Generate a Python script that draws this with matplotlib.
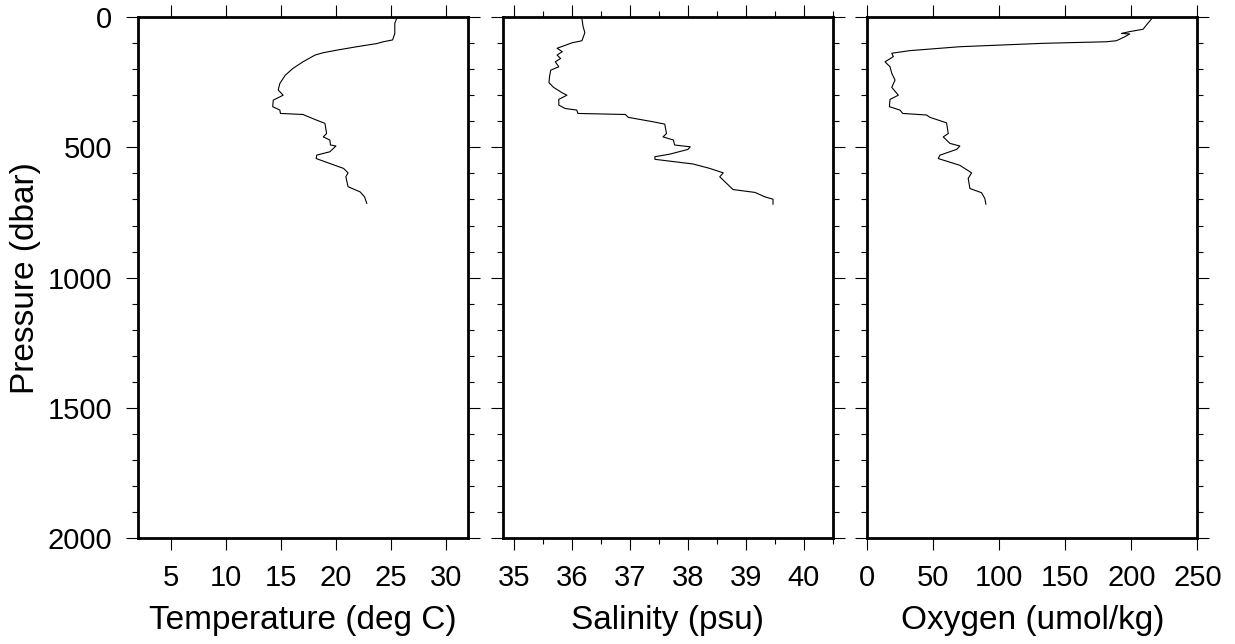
import matplotlib
matplotlib.use("Agg")
import matplotlib.pyplot as plt
from matplotlib.ticker import MultipleLocator

plt.rcParams["font.family"] = ["Liberation Sans", "DejaVu Sans"]

# profiles (pressure in dbar)
temp_p = [8, 24, 63, 88, 95, 102, 114, 127, 137, 146, 172, 197, 223, 255, 280,
          300, 319, 344, 357, 370, 374, 395, 408, 447, 460, 472, 491, 495, 517,
          530, 543, 562, 581, 598, 613, 651, 671, 690, 715]
temp = [25.5, 25.35, 25.35, 25.15, 24.3, 23.7, 21.9, 20.1, 18.85, 18.1, 17.0,
        16.1, 15.4, 14.9, 14.75, 15.2, 14.3, 14.25, 14.9, 14.95, 17.0, 18.2,
        19.0, 19.15, 18.85, 19.45, 19.5, 20.0, 19.45, 18.25, 18.2, 19.45, 20.7,
        21.1, 20.9, 21.1, 22.2, 22.6, 22.8]

sal_p = [8, 37, 60, 91, 99, 120, 133, 146, 159, 172, 191, 204, 229, 252, 270,
         291, 300, 316, 338, 351, 357, 370, 374, 385, 402, 411, 447, 460, 472,
         491, 498, 508, 526, 536, 546, 564, 581, 598, 613, 645, 662, 673, 690,
         699, 718]
sal = [36.17, 36.19, 36.22, 36.17, 36.0, 35.74, 35.83, 35.74, 35.8, 35.71,
       35.77, 35.63, 35.61, 35.6, 35.68, 35.83, 35.91, 35.77, 35.77, 35.88,
       36.08, 36.1, 36.92, 36.97, 37.4, 37.6, 37.63, 37.57, 37.75, 37.77, 38.04,
       38.0, 37.69, 37.43, 37.43, 38.09, 38.38, 38.61, 38.55, 38.7, 38.78, 39.16,
       39.33, 39.47, 39.47]

oxy_p = [8, 31, 47, 56, 63, 65, 76, 91, 95, 101, 114, 129, 139, 152, 172, 191,
         216, 242, 270, 300, 316, 344, 357, 370, 376, 385, 406, 447, 460, 485,
         495, 508, 530, 543, 569, 598, 619, 658, 674, 696, 718]
oxy = [215.2, 211.4, 208.9, 198.8, 192.5, 198.8, 195.0, 188.7, 181.0, 133.0,
       70.1, 32.3, 18.5, 19.7, 13.4, 17.2, 18.5, 21.0, 18.5, 23.5, 17.2, 16.7,
       24.7, 26.8, 44.9, 47.4, 60.0, 61.3, 57.5, 62.6, 70.1, 67.6, 55.0, 53.7,
       70.1, 79.0, 76.4, 77.7, 86.5, 89.0, 89.8]

labels = ["Temperature (deg C)", "Salinity (psu)", "Oxygen (umol/kg)"]
xlims = [(2, 32), (34.8, 40.5), (0, 250)]
xmajor = [5, 1, 50]
xminor = [None, 0.5, None]

fig = plt.figure(figsize=(12.35, 6.44), dpi=100)
lefts = [0.1117, 0.4070, 0.7023]
series = [(temp, temp_p), (sal, sal_p), (oxy, oxy_p)]

for i, (x, p) in enumerate(series):
    ax = fig.add_axes([lefts[i], 0.1641, 0.2672, 0.8095])
    ax.plot(x, p, color="black", lw=0.8)
    ax.set_xlim(*xlims[i])
    ax.set_ylim(2000, 0)
    ax.xaxis.set_major_locator(MultipleLocator(xmajor[i]))
    if xminor[i]:
        ax.xaxis.set_minor_locator(MultipleLocator(xminor[i]))
    ax.yaxis.set_major_locator(MultipleLocator(500))
    ax.yaxis.set_minor_locator(MultipleLocator(100))
    for s in ax.spines.values():
        s.set_linewidth(2.0)
    ax.tick_params(which="both", direction="out", top=True, right=True,
                   width=0.8, labelsize=21, pad=10)
    ax.tick_params(which="major", length=8.5)
    ax.tick_params(which="minor", length=4.3)
    ax.tick_params(axis="x", labeltop=False)
    ax.tick_params(axis="y", labelright=False, labelleft=(i == 0))
    ax.set_xlabel(labels[i], fontsize=24, labelpad=9)
    if i == 0:
        ax.set_ylabel("Pressure (dbar)", fontsize=24, labelpad=5)

fig.savefig("out.png", dpi=100)
